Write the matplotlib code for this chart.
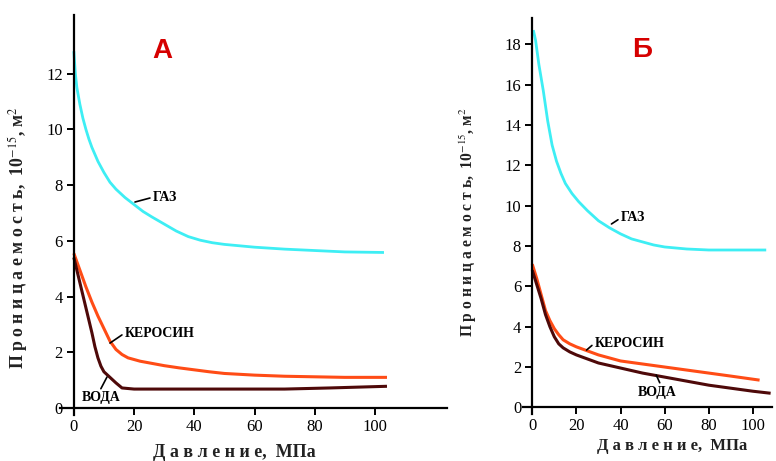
import matplotlib
matplotlib.use("Agg")
import matplotlib.pyplot as plt

plt.rcParams['font.family'] = ['Liberation Serif', 'DejaVu Serif']
plt.rcParams['mathtext.fontset'] = 'stix'

# panel A data (pressure, MPa -> permeability, 1e-15 m2)
gas_a_x = [0, 0.5, 1, 2, 3, 4, 5, 6, 8, 10, 12, 14, 17, 20, 23, 26, 30, 34, 38, 42, 46, 50,
           60, 70, 80, 90, 103]
gas_a_y = [12.8, 12.0, 11.5, 10.9, 10.4, 10.0, 9.65, 9.35, 8.85, 8.45, 8.1, 7.85, 7.55, 7.3,
           7.05, 6.85, 6.6, 6.35, 6.15, 6.02, 5.93, 5.87, 5.77, 5.7, 5.65, 5.6, 5.58]
ker_a_x = [0, 2, 4, 6, 8, 10, 12, 14, 16, 18, 22, 26, 30, 35, 40, 45, 50, 60, 70, 80, 90, 104]
ker_a_y = [5.55, 4.95, 4.35, 3.8, 3.3, 2.85, 2.4, 2.1, 1.92, 1.8, 1.68, 1.6, 1.52, 1.44, 1.37,
           1.3, 1.24, 1.18, 1.14, 1.12, 1.1, 1.1]
wat_a_x = [0, 2, 4, 6, 7, 8, 9, 10, 12, 14, 16, 20, 40, 70, 85, 104]
wat_a_y = [5.4, 4.5, 3.6, 2.7, 2.2, 1.8, 1.5, 1.3, 1.1, 0.9, 0.72, 0.68, 0.68, 0.68, 0.72, 0.78]

# panel B data
gas_b_x = [0.5, 1.5, 3, 5, 7, 9, 11, 13, 15, 18, 21, 25, 30, 35, 40, 45, 50, 55, 60, 70, 80,
           90, 106]
gas_b_y = [18.7, 18.2, 17.0, 15.7, 14.2, 13.0, 12.2, 11.6, 11.1, 10.6, 10.2, 9.75, 9.25, 8.9,
           8.6, 8.35, 8.2, 8.05, 7.95, 7.85, 7.8, 7.8, 7.8]
ker_b_x = [0, 2, 4, 6, 8, 10, 12, 14, 17, 20, 25, 30, 35, 40, 50, 60, 70, 80, 90, 103]
ker_b_y = [7.1, 6.4, 5.6, 4.8, 4.3, 3.9, 3.6, 3.35, 3.15, 3.0, 2.8, 2.6, 2.45, 2.3, 2.15, 2.0,
           1.85, 1.7, 1.55, 1.35]
wat_b_x = [0, 2, 4, 6, 8, 10, 12, 14, 17, 20, 25, 30, 40, 50, 60, 70, 80, 90, 100, 108]
wat_b_y = [6.8, 6.1, 5.4, 4.6, 4.0, 3.5, 3.15, 2.95, 2.75, 2.6, 2.4, 2.2, 1.95, 1.7, 1.5, 1.3,
           1.1, 0.95, 0.8, 0.7]

x_ticks = [0, 20, 40, 60, 80, 100]
y_ticks_a = [0, 2, 4, 6, 8, 10, 12]
y_ticks_b = [0, 2, 4, 6, 8, 10, 12, 14, 16, 18]

c_gas = '#3eeef4'
c_ker = '#ff4c16'
c_wat = '#4e0909'

xlabel = 'Д а в л е н и е,  МПа'
ylabel = 'П р о н и ц а е м о с т ь,  10$^{-15}$, м$^2$'

fig = plt.figure(figsize=(7.76, 4.61), dpi=100)
ax_a = fig.add_axes([0.0773, 0.0998, 0.499, 0.8677])
ax_b = fig.add_axes([0.6745, 0.101, 0.32, 0.86])


def style_axis(ax, xlim, ylim, yticks):
    ax.set_xlim(*xlim)
    ax.set_ylim(*ylim)
    for s in ['top', 'right']:
        ax.spines[s].set_visible(False)
    ax.spines['left'].set_position(('data', 0))
    ax.spines['bottom'].set_position(('data', 0))
    for s in ['left', 'bottom']:
        ax.spines[s].set_linewidth(1.6)
    ax.set_xticks(x_ticks)
    ax.set_yticks(yticks)
    ax.tick_params(direction='out', length=5, width=1.4, labelsize=12, pad=3)
    ax.patch.set_alpha(0)


def label(ax, text, xy, xytext, relpos=(0, 0.5)):
    ax.annotate(text, xy=xy, xytext=xytext, ha='left', va='center',
                fontsize=10, fontweight='bold',
                arrowprops=dict(arrowstyle='-', color='black', lw=1.2,
                                relpos=relpos, shrinkA=0, shrinkB=0))


def curve(ax, x, y, color, lw):
    ax.plot(x, y, color=color, lw=lw, solid_joinstyle='round', solid_capstyle='butt')


# panel A
curve(ax_a, gas_a_x, gas_a_y, c_gas, 2.0)
curve(ax_a, ker_a_x, ker_a_y, c_ker, 2.2)
curve(ax_a, wat_a_x, wat_a_y, c_wat, 2.2)
style_axis(ax_a, (-4.6, 124), (-0.25, 14.1), y_ticks_a)
label(ax_a, 'ГАЗ', (20.3, 7.39), (26.2, 7.56))
label(ax_a, 'КЕРОСИН', (12.0, 2.33), (16.9, 2.69))
label(ax_a, 'ВОДА', (11.0, 1.11), (2.7, 0.36), relpos=(0.45, 1.0))
ax_a.text(29.5, 12.8, 'А', color='#d60000', fontsize=20, fontweight='bold',
          family=['Liberation Sans'], ha='center', va='center')
ax_a.text(0.45, -0.095, xlabel, transform=ax_a.transAxes, ha='center', va='center',
          fontsize=13, fontweight='bold', color='#222222')
ax_a.text(-0.108, 0.4425, ylabel, transform=ax_a.transAxes, rotation=90, ha='center',
          va='center', fontsize=12.8, fontweight='bold', color='#222222')

# panel B
curve(ax_b, gas_b_x, gas_b_y, c_gas, 2.0)
curve(ax_b, ker_b_x, ker_b_y, c_ker, 2.2)
curve(ax_b, wat_b_x, wat_b_y, c_wat, 2.2)
style_axis(ax_b, (-4.0, 108.5), (-0.35, 19.3), y_ticks_b)
label(ax_b, 'ГАЗ', (35.9, 9.09), (40.1, 9.39))
label(ax_b, 'КЕРОСИН', (24.6, 2.84), (28.3, 3.19))
label(ax_b, 'ВОДА', (56.2, 1.60), (47.8, 0.76), relpos=(0.6, 1.0))
ax_b.text(50.0, 17.7, 'Б', color='#d60000', fontsize=20, fontweight='bold',
          family=['Liberation Sans'], ha='center', va='center')
ax_b.text(0.60, -0.08, xlabel, transform=ax_b.transAxes, ha='center', va='center',
          fontsize=12, fontweight='bold', color='#222222')
ax_b.text(-0.22, 0.485, ylabel, transform=ax_b.transAxes, rotation=90, ha='center',
          va='center', fontsize=11.2, fontweight='bold', color='#222222')

fig.savefig('out.png', dpi=100)
